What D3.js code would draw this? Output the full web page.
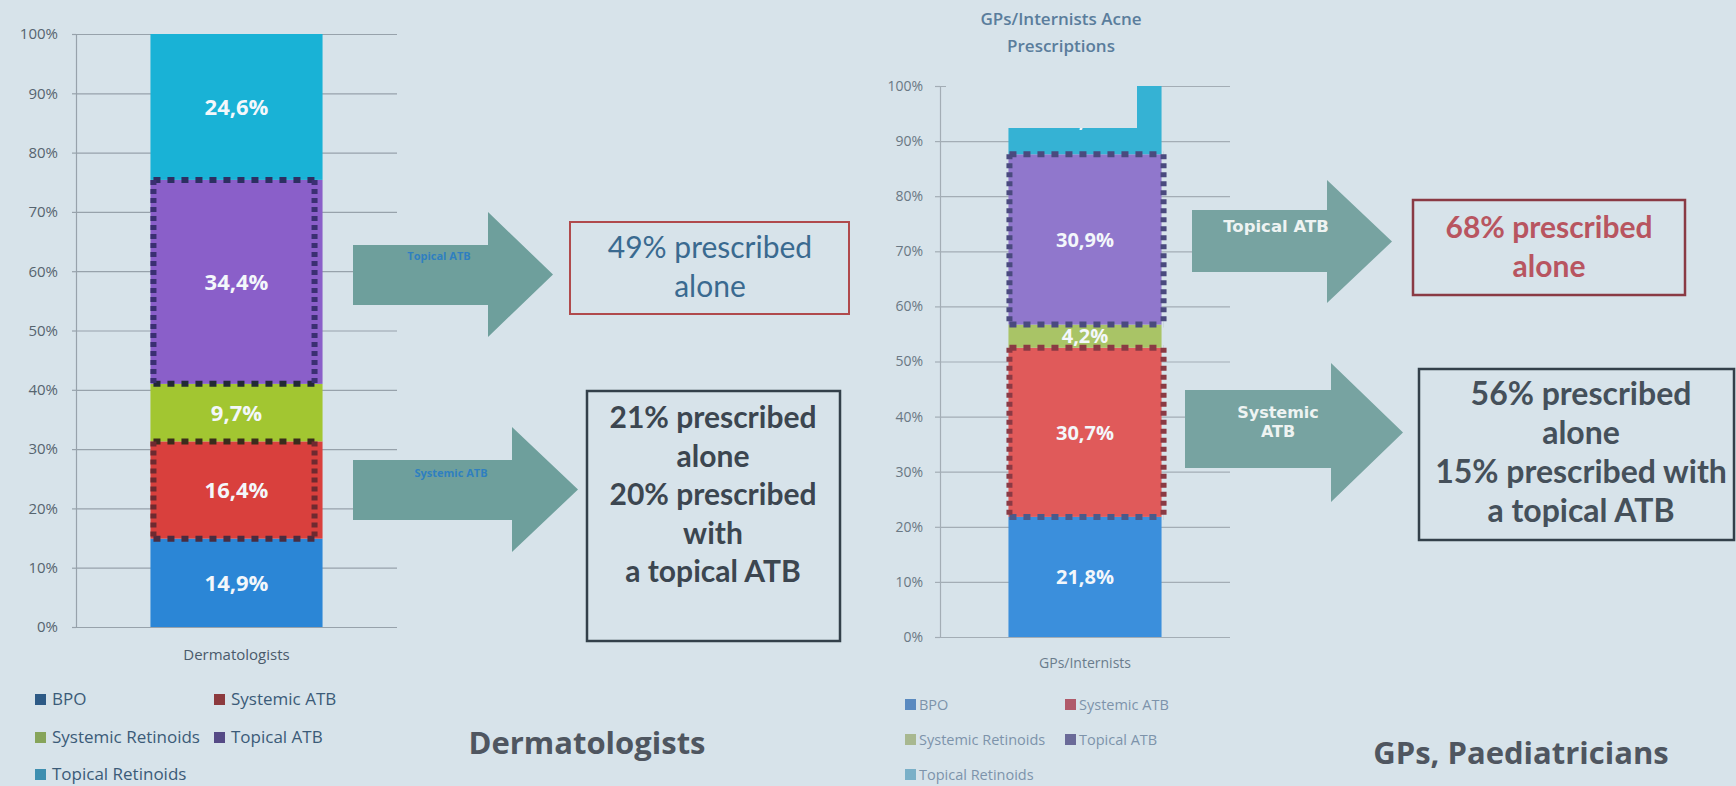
<!DOCTYPE html>
<html>
<head>
<meta charset="utf-8">
<script src="https://cdn.jsdelivr.net/npm/d3@7"></script>
<style>
  html, body { margin: 0; padding: 0; background: #d7e3ea; }
  svg { display: block; }
</style>
</head>
<body>
<svg id="slide" width="1736" height="786"></svg>
<script>
// Data
const segments = ["BPO", "Systemic ATB", "Systemic Retinoids", "Topical ATB", "Topical Retinoids"];
const dermValues = [14.9, 16.4, 9.7, 34.4, 24.6];
const gpValues = [21.8, 30.7, 4.2, 30.9, 12.4];
const yTicks = [0, 10, 20, 30, 40, 50, 60, 70, 80, 90, 100];
const dermCategory = "Dermatologists";
const gpCategory = "GPs/Internists";
const gpTitle = ["GPs/Internists Acne", "Prescriptions"];
const highlighted = ["Topical ATB", "Systemic ATB"];
const arrowLabels = ["Topical ATB", "Systemic ATB"];
const dermNotes = [["49% prescribed", "alone"], ["21% prescribed", "alone", "20% prescribed", "with", "a topical ATB"]];
const gpNotes = [["68% prescribed", "alone"], ["56% prescribed", "alone", "15% prescribed with", "a topical ATB"]];
const sectionTitles = ["Dermatologists", "GPs, Paediatricians"];

const bg = "#d7e3ea";
const svg = d3.select("#slide");
svg.append("rect").attr("width", 1736).attr("height", 786).attr("fill", bg);

const fmt = v => d3.format(".1f")(v).replace(".", ",") + "%";

function drawChart(cfg) {
  const g = svg.append("g");
  const row = { cat: cfg.category };
  segments.forEach((s, i) => row[s] = cfg.values[i]);
  const stacked = d3.stack().keys(segments)([row]);

  const y = d3.scaleLinear().domain([0, 100]).range(cfg.yRange);
  const x = d3.scaleBand().domain([cfg.category]).range(cfg.xRange).padding(cfg.pad);
  const color = d3.scaleOrdinal().domain(segments).range(cfg.colors);

  // gridlines
  g.selectAll(".grid").data(yTicks).enter().append("line")
    .attr("x1", cfg.xRange[0]).attr("x2", cfg.xRange[1])
    .attr("y1", d => y(d) + 0.5).attr("y2", d => y(d) + 0.5)
    .attr("stroke", cfg.gridColor).attr("stroke-width", 1.2);

  // y axis
  const axis = g.append("g")
    .attr("transform", "translate(" + cfg.xRange[0] + ",0)")
    .call(d3.axisLeft(y).tickValues(yTicks).tickFormat(d => d + "%")
      .tickSize(cfg.tick).tickSizeOuter(0).tickPadding(cfg.tickPad));
  axis.select(".domain").attr("stroke", cfg.gridColor).attr("stroke-width", 1.2);
  axis.selectAll(".tick line").attr("stroke", cfg.gridColor).attr("stroke-width", 1.2);
  axis.selectAll("text").attr("font-family", "Open Sans").attr("font-size", cfg.tickFont)
    .attr("fill", cfg.tickColor);

  // bar segments
  const bx = x(cfg.category), bw = x.bandwidth();
  g.selectAll(".seg").data(stacked).enter().append("rect")
    .attr("x", bx).attr("width", bw)
    .attr("y", d => y(d[0][1])).attr("height", d => y(d[0][0]) - y(d[0][1]))
    .attr("fill", d => color(d.key));

  g.selectAll(".lbl").data(stacked).enter().append("text")
    .attr("x", bx + bw / 2)
    .attr("y", d => (y(d[0][0]) + y(d[0][1])) / 2)
    .attr("dy", "0.36em")
    .attr("text-anchor", "middle")
    .attr("font-family", "Open Sans").attr("font-weight", 700)
    .attr("font-size", cfg.labelFont)
    .attr("fill", "#f3f7fb")
    .text(d => fmt(d[0][1] - d[0][0]));

  // dotted outlines round the antibiotic segments
  stacked.filter(d => highlighted.includes(d.key)).forEach(d => {
    const top = y(d[0][1]), bot = y(d[0][0]);
    const xl = bx + cfg.inset[0], xr = bx + bw - cfg.inset[1];
    const c = cfg.dotColors[d.key];
    const lines = [
      [xl, top, xr, top, "7,7", c.h],
      [xl, bot, xr, bot, "7,7", c.b],
      [xl, top, xl, bot, "5,4", c.v],
      [xr, top, xr, bot, "5,4", c.v]
    ];
    lines.forEach(l => {
      g.append("line").attr("x1", l[0]).attr("y1", l[1]).attr("x2", l[2]).attr("y2", l[3])
        .attr("stroke", l[5]).attr("stroke-width", 6).attr("stroke-dasharray", l[4]);
    });
  });

  // category label
  g.append("text").attr("x", bx + bw / 2).attr("y", cfg.catY)
    .attr("text-anchor", "middle").attr("font-family", "Open Sans")
    .attr("font-size", cfg.catFont).attr("fill", cfg.catColor).text(cfg.category);

  // legend, two columns
  segments.forEach((s, i) => {
    const cx = cfg.legendX[i % 2], cy = cfg.legendY[Math.floor(i / 2)];
    g.append("rect").attr("x", cx).attr("y", cy - 11).attr("width", 11).attr("height", 11)
      .attr("fill", cfg.legendColors[i]);
    g.append("text").attr("x", cx + cfg.legendGap).attr("y", cy)
      .attr("font-family", "Open Sans").attr("font-size", cfg.legendFont)
      .attr("fill", cfg.legendText).text(s);
  });
  return g;
}

drawChart({
  values: dermValues, category: dermCategory,
  yRange: [627, 34], xRange: [76, 397], pad: 0.302,
  colors: ["#2b86d6", "#d9403d", "#a2c631", "#8a5fc9", "#19b2d6"],
  gridColor: "#97a2ab", tick: 4, tickPad: 14, tickFont: 15, tickColor: "#56646f",
  labelFont: 22, inset: [3, 8],
  dotColors: {
    "Topical ATB": { h: "#2d2f62", b: "#232a35", v: "#3a2f72" },
    "Systemic ATB": { h: "#3a2c1c", b: "#4a2c40", v: "#6e2a30" }
  },
  catY: 660, catFont: 15, catColor: "#4a5a6a",
  legendX: [35, 214], legendY: [705, 743, 780], legendGap: 17, legendFont: 17,
  legendColors: ["#2d5a86", "#8c3a3e", "#86a45a", "#554a86", "#3e8fb0"], legendText: "#3b5b78"
});

drawChart({
  values: gpValues, category: gpCategory,
  yRange: [637, 86], xRange: [940, 1230], pad: 0.309,
  colors: ["#3b8fdc", "#e05a5a", "#a9c466", "#9077cc", "#35b2d4"],
  gridColor: "#a3adb5", tick: 5, tickPad: 12, tickFont: 14, tickColor: "#6a7884",
  labelFont: 20, inset: [1, -2],
  dotColors: {
    "Topical ATB": { h: "#4a4a7e", b: "#4a4a7e", v: "#4a4a7e" },
    "Systemic ATB": { h: "#8a3a44", b: "#4a5a8a", v: "#8a3a44" }
  },
  catY: 668, catFont: 14, catColor: "#6a7c8c",
  legendX: [905, 1065], legendY: [710, 745, 780], legendGap: 14, legendFont: 14.5,
  legendColors: ["#5a8ac0", "#b05a6a", "#a8b890", "#6a6a98", "#7ab0c8"], legendText: "#7d93aa"
});

// the photo has the top of the GP bar masked off
svg.append("rect").attr("x", 946).attr("y", 58).attr("width", 191).attr("height", 70).attr("fill", bg);

// GP chart title
gpTitle.forEach((t, i) => {
  svg.append("text").attr("x", 1061).attr("y", 25 + i * 27).attr("text-anchor", "middle")
    .attr("font-family", "Open Sans").attr("font-weight", 600).attr("font-size", 17)
    .attr("fill", "#5a7d9c").text(t);
});

// arrows
function arrow(a, fill) {
  const mid = (a.headTop + a.headBot) / 2;
  const pts = [[a.x0, a.top], [a.x1, a.top], [a.x1, a.headTop], [a.tip, mid],
               [a.x1, a.headBot], [a.x1, a.bot], [a.x0, a.bot]];
  svg.append("polygon").attr("points", pts.map(p => p.join(",")).join(" ")).attr("fill", fill);
}
arrow({ x0: 353, x1: 488, tip: 553, top: 245, bot: 305, headTop: 212, headBot: 337 }, "#6e9f9c");
arrow({ x0: 353, x1: 512, tip: 578, top: 460, bot: 520, headTop: 427, headBot: 552 }, "#6e9f9c");
arrow({ x0: 1192, x1: 1327, tip: 1392, top: 210, bot: 272, headTop: 180, headBot: 303 }, "#77a3a1");
arrow({ x0: 1185, x1: 1331, tip: 1403, top: 390, bot: 468, headTop: 363, headBot: 502 }, "#77a3a1");

// tiny blue labels on the dermatologist arrows
[[439, 260], [451, 477]].forEach((p, i) => {
  svg.append("text").attr("x", p[0]).attr("y", p[1]).attr("text-anchor", "middle")
    .attr("font-family", "Open Sans").attr("font-weight", 700).attr("font-size", 11)
    .attr("fill", "#2f7fc0").text(arrowLabels[i]);
});
// white labels on the GP arrows
svg.append("text").attr("x", 1276).attr("y", 232).attr("text-anchor", "middle")
  .attr("font-family", "DejaVu Sans").attr("font-weight", 700).attr("font-size", 16.5)
  .attr("fill", "#eef3f2").text(arrowLabels[0]);
arrowLabels[1].split(" ").forEach((w, i) => {
  svg.append("text").attr("x", 1278).attr("y", 418 + i * 19).attr("text-anchor", "middle")
    .attr("font-family", "DejaVu Sans").attr("font-weight", 700).attr("font-size", 16)
    .attr("fill", "#eef3f2").text(w);
});

// note boxes
function noteBox(b, lines) {
  svg.append("rect").attr("x", b.x).attr("y", b.y).attr("width", b.w).attr("height", b.h)
    .attr("fill", "none").attr("stroke", b.stroke).attr("stroke-width", b.sw);
  lines.forEach((t, i) => {
    svg.append("text").attr("x", b.cx).attr("y", b.base + i * b.lh).attr("text-anchor", "middle")
      .attr("font-family", "Lato").attr("font-weight", b.weight).attr("font-size", b.size)
      .attr("fill", b.color).text(t);
  });
}
noteBox({ x: 570, y: 222, w: 279, h: 92, stroke: "#b04a4c", sw: 2, cx: 710, base: 258, lh: 39,
  size: 30, weight: 400, color: "#3a6a90" }, dermNotes[0]);
noteBox({ x: 587, y: 391, w: 253, h: 250, stroke: "#33404a", sw: 2.5, cx: 713, base: 428, lh: 38.5,
  size: 30, weight: 700, color: "#3c4650" }, dermNotes[1]);
noteBox({ x: 1413, y: 200, w: 272, h: 95, stroke: "#8a3a44", sw: 2.5, cx: 1549, base: 238, lh: 39,
  size: 30, weight: 700, color: "#b85560" }, gpNotes[0]);
noteBox({ x: 1419, y: 369, w: 315, h: 171, stroke: "#33404a", sw: 2.5, cx: 1581, base: 405, lh: 39,
  size: 32, weight: 700, color: "#45505a" }, gpNotes[1]);

// section titles
[[587, 754], [1521, 764]].forEach((p, i) => {
  svg.append("text").attr("x", p[0]).attr("y", p[1]).attr("text-anchor", "middle")
    .attr("font-family", "Open Sans").attr("font-weight", 700).attr("font-size", 31)
    .attr("fill", "#4f5660").text(sectionTitles[i]);
});
</script>
</body>
</html>
